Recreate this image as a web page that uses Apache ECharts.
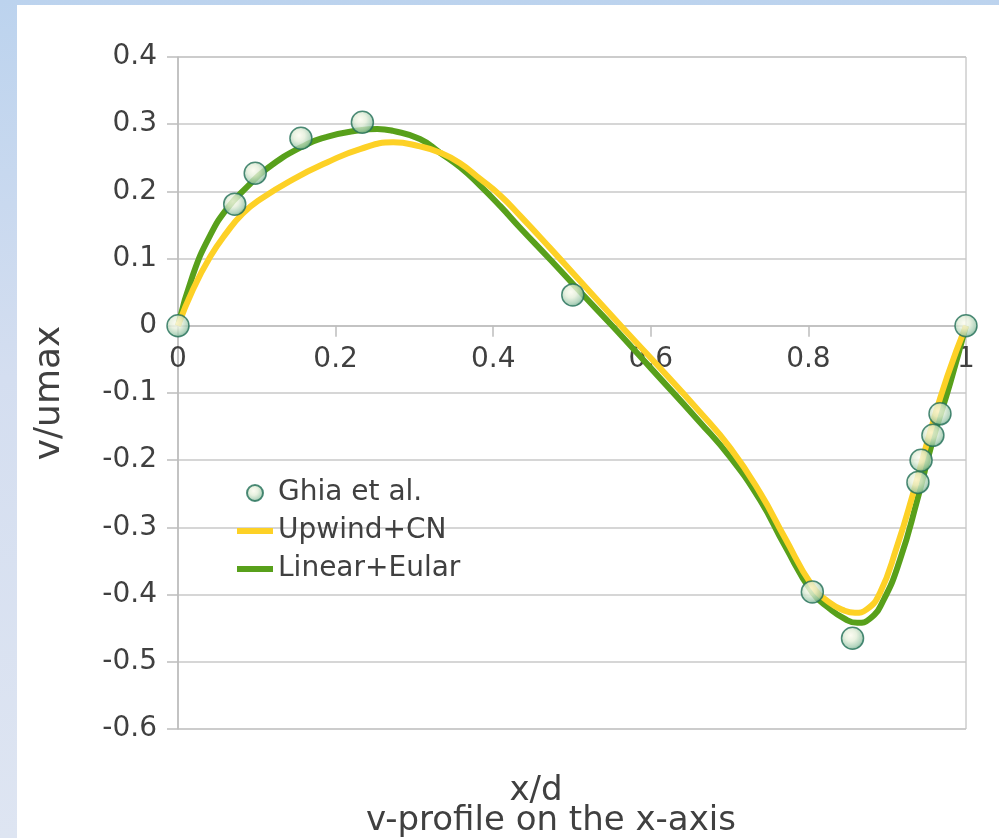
<!DOCTYPE html>
<html>
<head>
<meta charset="utf-8">
<script src="https://cdn.jsdelivr.net/npm/echarts@6/dist/echarts.min.js"></script>
<style>
  html, body { margin: 0; padding: 0; }
  body {
    width: 999px; height: 838px; position: relative; overflow: hidden;
    background: linear-gradient(to bottom, #bcd3ee 0%, #d4def0 45%, #dee5f2 100%);
  }
  #chart {
    position: absolute; left: 17px; top: 5px; width: 982px; height: 833px;
    background: #ffffff;
  }
</style>
</head>
<body>
<div id="chart"></div>
<script>
// Reference data (Ghia et al.) – v/umax along the horizontal centre line
const ghiaX = [0, 0.072, 0.098, 0.156, 0.234, 0.501, 0.805, 0.856, 0.939, 0.943, 0.958, 0.967, 1];
const ghiaV = [0, 0.181, 0.227, 0.279, 0.303, 0.046, -0.396, -0.465, -0.233, -0.200, -0.163, -0.131, 0];

// Upwind scheme + Crank–Nicolson
const upwindX = [0, 0.019, 0.041, 0.062, 0.082, 0.104, 0.146, 0.189, 0.231, 0.273, 0.307, 0.332, 0.358, 0.383,
  0.409, 0.434, 0.472, 0.510, 0.562, 0.600, 0.662, 0.701, 0.739, 0.770, 0.805, 0.827, 0.846, 0.859, 0.874,
  0.891, 0.912, 0.933, 0.954, 0.976, 1];
const upwindV = [0, 0.054, 0.103, 0.139, 0.167, 0.188, 0.218, 0.243, 0.263, 0.273, 0.267, 0.258, 0.242, 0.219,
  0.194, 0.164, 0.116, 0.067, 0, -0.048, -0.128, -0.182, -0.249, -0.315, -0.387, -0.412, -0.424, -0.427, -0.422,
  -0.397, -0.330, -0.249, -0.160, -0.076, 0];

// Linear interpolation + explicit Euler
const linearX = [0, 0.019, 0.041, 0.062, 0.088, 0.113, 0.155, 0.189, 0.231, 0.253, 0.273, 0.307, 0.332, 0.358,
  0.383, 0.409, 0.434, 0.472, 0.510, 0.551, 0.600, 0.662, 0.701, 0.739, 0.770, 0.805, 0.827, 0.846, 0.862,
  0.878, 0.895, 0.916, 0.938, 0.958, 0.980, 1];
const linearV = [0, 0.076, 0.135, 0.174, 0.207, 0.234, 0.265, 0.281, 0.291, 0.293, 0.290, 0.278, 0.258, 0.236,
  0.209, 0.178, 0.146, 0.099, 0.051, 0, -0.063, -0.143, -0.196, -0.260, -0.327, -0.397, -0.421, -0.436, -0.442,
  -0.436, -0.409, -0.349, -0.260, -0.170, -0.085, 0];

const xTicks = { min: 0, max: 1, interval: 0.2 };
const yTicks = { min: -0.6, max: 0.4, interval: 0.1 };

const pairs = (xs, ys) => xs.map((x, i) => [x, ys[i]]);

const FONT = '"DejaVu Sans", "Noto Sans", sans-serif';
const TEXT = '#404040';

// Plot box inside the chart container
const GRID = { left: 161, right: 33, top: 52, bottom: 109 };
const CHART_H = 833;
const plotH = CHART_H - GRID.top - GRID.bottom;
// The x axis crosses the vertical axis at v = 0: lift it from the bottom edge to that level
const xAxisLift = -plotH * (0 - yTicks.min) / (yTicks.max - yTicks.min);

const chart = echarts.init(document.getElementById('chart'), null, { renderer: 'canvas' });

chart.setOption({
  animation: false,
  textStyle: { fontFamily: FONT, color: TEXT },
  title: [
    {
      text: 'x/d',
      left: 519, top: 769, textAlign: 'center', padding: 0,
      textStyle: { fontFamily: FONT, fontSize: 34, fontWeight: 'normal', color: TEXT }
    },
    {
      text: 'v-profile on the x-axis',
      left: 534, top: 799, textAlign: 'center', padding: 0,
      textStyle: { fontFamily: FONT, fontSize: 34, fontWeight: 'normal', color: TEXT }
    }
  ],
  grid: Object.assign({
    outerBoundsMode: 'none', containLabel: false,
    show: true, borderColor: '#b4b4b4', borderWidth: 1, backgroundColor: 'transparent'
  }, GRID),
  legend: {
    orient: 'vertical', left: 217, top: 474, padding: 0,
    itemWidth: 36, itemHeight: 16, itemGap: 10,
    textStyle: { fontFamily: FONT, fontSize: 28, color: TEXT },
    data: [
      { name: 'Ghia et al.' },
      { name: 'Upwind+CN', itemStyle: { opacity: 0 }, lineStyle: { width: 6 } },
      { name: 'Linear+Eular', itemStyle: { opacity: 0 }, lineStyle: { width: 6 } }
    ]
  },
  xAxis: {
    type: 'value', min: xTicks.min, max: xTicks.max, interval: xTicks.interval,
    offset: xAxisLift,
    axisLine: { onZero: false, lineStyle: { color: '#bdbdbd', width: 1.5 } },
    axisTick: { show: true, length: 11, lineStyle: { color: '#bdbdbd', width: 1.5 } },
    axisLabel: { margin: 20, fontFamily: FONT, fontSize: 28, color: TEXT },
    splitLine: { show: false }
  },
  yAxis: {
    type: 'value', min: yTicks.min, max: yTicks.max, interval: yTicks.interval,
    name: 'v/umax', nameLocation: 'middle', nameRotate: 90, nameGap: 110,
    nameTextStyle: { fontFamily: FONT, fontSize: 36, color: TEXT },
    axisLine: { show: true, lineStyle: { color: '#bdbdbd', width: 1.5 } },
    axisTick: { show: true, length: 11, lineStyle: { color: '#bdbdbd', width: 1.5 } },
    axisLabel: { margin: 21, fontFamily: FONT, fontSize: 28, color: TEXT },
    splitLine: { show: true, lineStyle: { color: '#c9c9c9', width: 1.5 } }
  },
  series: [
    {
      name: 'Ghia et al.', type: 'scatter', z: 5,
      data: pairs(ghiaX, ghiaV),
      symbol: 'circle', symbolSize: 22,
      itemStyle: {
        color: {
          type: 'radial', x: 0.42, y: 0.38, r: 0.62,
          colorStops: [
            { offset: 0, color: '#fbfbef' },
            { offset: 0.4, color: '#e3eed9' },
            { offset: 0.8, color: '#a2cbb0' },
            { offset: 1, color: '#5f9f82' }
          ]
        },
        borderColor: '#236f57', borderWidth: 1.5
      }
    },
    {
      name: 'Upwind+CN', type: 'line', z: 3,
      data: pairs(upwindX, upwindV),
      smooth: 0.5, showSymbol: false,
      lineStyle: { color: '#fdd126', width: 6 },
      itemStyle: { color: '#fdd126' }
    },
    {
      name: 'Linear+Eular', type: 'line', z: 2,
      data: pairs(linearX, linearV),
      smooth: 0.5, showSymbol: false,
      lineStyle: { color: '#58a01b', width: 6 },
      itemStyle: { color: '#58a01b' }
    }
  ]
});
</script>
</body>
</html>
